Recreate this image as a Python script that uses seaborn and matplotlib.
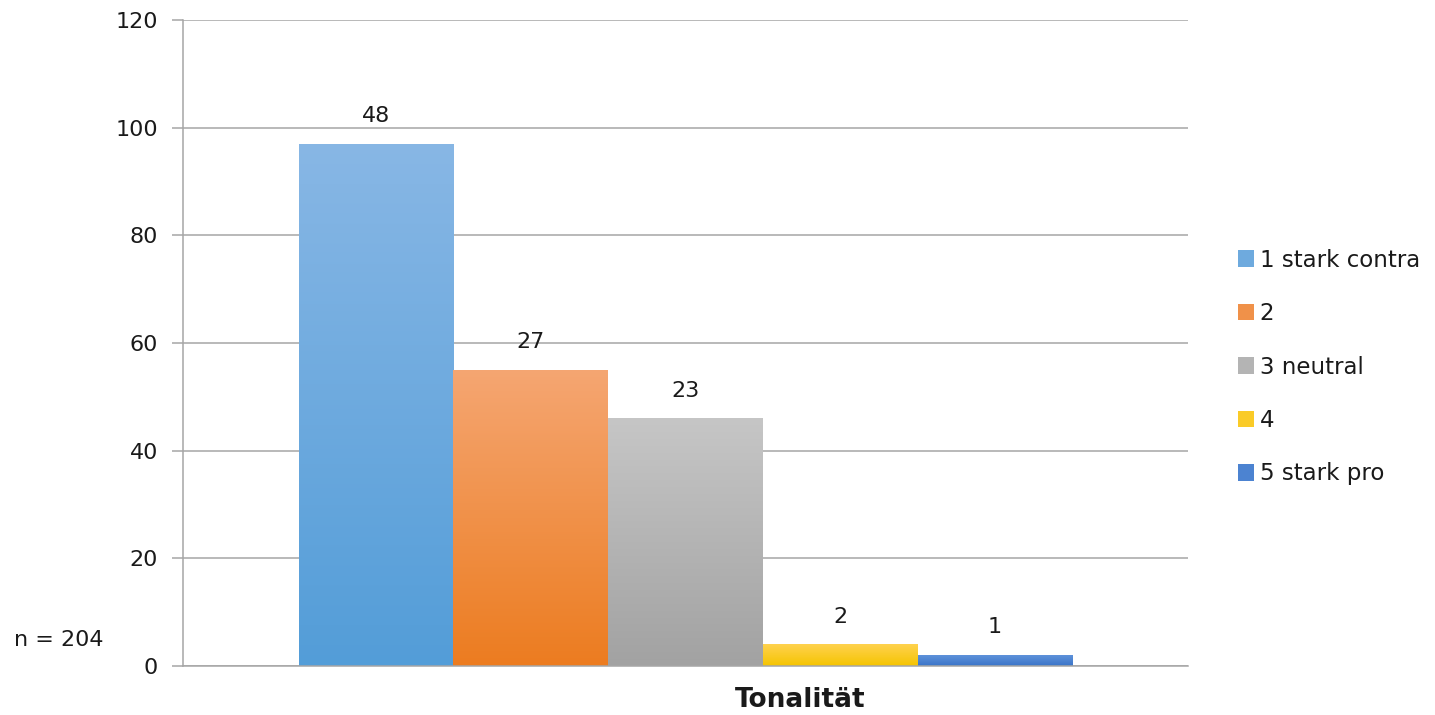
import matplotlib
matplotlib.use('Agg')
import matplotlib.pyplot as plt
import matplotlib.colors as mcolors
import numpy as np
import pandas as pd
import seaborn as sns

# Daten
kategorien = ['1 stark contra', '2', '3 neutral', '4', '5 stark pro']
anzahl = [97, 55, 46, 4, 2]
prozent = [48, 27, 23, 2, 1]
n_gesamt = 204

# Farbverlauf je Balken: oben / unten
farben_oben = ['#88B7E5', '#F5A672', '#C6C6C6', '#FFD24F', '#5E92DA']
farben_unten = ['#539DD8', '#EC7C20', '#A2A2A2', '#F5C400', '#3A74C8']

sns.set_theme(style='white')
plt.rcParams['font.family'] = ['DejaVu Sans']

df = pd.DataFrame({'gruppe': ['Tonalität'] * len(kategorien),
                   'kategorie': kategorien,
                   'anzahl': anzahl})

fig = plt.figure(figsize=(14.35, 7.15), dpi=100)
ax = fig.add_axes([183 / 1435, 49 / 715, 1005 / 1435, 646 / 715])

sns.barplot(data=df, x='gruppe', y='anzahl', hue='kategorie',
            hue_order=kategorien, palette=farben_unten, width=0.77,
            dodge=True, saturation=1, linewidth=0, ax=ax, legend=False)

# Farbverlauf in die Balken legen
for patch, c_top, c_bot in zip(ax.patches, farben_oben, farben_unten):
    x0, y0 = patch.get_x(), patch.get_y()
    w, h = patch.get_width(), patch.get_height()
    cmap = mcolors.LinearSegmentedColormap.from_list('g', [c_bot, c_top])
    grad = np.linspace(0, 1, 256).reshape(-1, 1)
    im = ax.imshow(grad, cmap=cmap, origin='lower', aspect='auto',
                   extent=(x0, x0 + w, y0, y0 + h), zorder=2)
    im.set_clip_path(patch)
    patch.set_facecolor('none')

ax.set_xlim(-0.5, 0.5)
ax.set_ylim(0, 120)

# Prozentwerte über den Balken
for patch, p in zip(ax.patches, prozent):
    ax.text(patch.get_x() + patch.get_width() / 2, patch.get_height() + 3.3,
            f'{p}', ha='center', va='bottom', fontsize=16, color='#1a1a1a')

ax.set_yticks(range(0, 121, 20))
ax.yaxis.grid(True, color='#A6A6A6', linewidth=1.1)
ax.set_axisbelow(True)
ax.tick_params(axis='y', labelsize=16, length=8, width=1.1, color='#A6A6A6',
               pad=10, left=True, labelcolor='#1a1a1a')
ax.set_xticks([])
ax.set_xlabel('')
ax.set_ylabel('')
for s in ['top', 'right']:
    ax.spines[s].set_visible(False)
for s in ['left', 'bottom']:
    ax.spines[s].set_color('#A6A6A6')
    ax.spines[s].set_linewidth(1.1)

# Legende
handles = [plt.Rectangle((0, 0), 1, 1, facecolor=mcolors.to_hex(
    (np.array(mcolors.to_rgb(a)) + np.array(mcolors.to_rgb(b))) / 2),
    edgecolor='none') for a, b in zip(farben_oben, farben_unten)]
fig.legend(handles, kategorien, loc='center left',
           bbox_to_anchor=(1217 / 1435, 1 - 367 / 715), frameon=False,
           fontsize=16.5, handlelength=0.72, handleheight=0.72,
           handletextpad=0.25, labelspacing=1.33, labelcolor='#1a1a1a')

fig.text(800 / 1435, 1 - 700 / 715, 'Tonalität', ha='center', va='center',
         fontsize=19, fontweight='bold', color='#1a1a1a')
fig.text(14 / 1435, 1 - 640 / 715, f'n = {n_gesamt}', ha='left', va='center',
         fontsize=16, color='#1a1a1a')

fig.savefig('out.png', dpi=100, facecolor='white')
